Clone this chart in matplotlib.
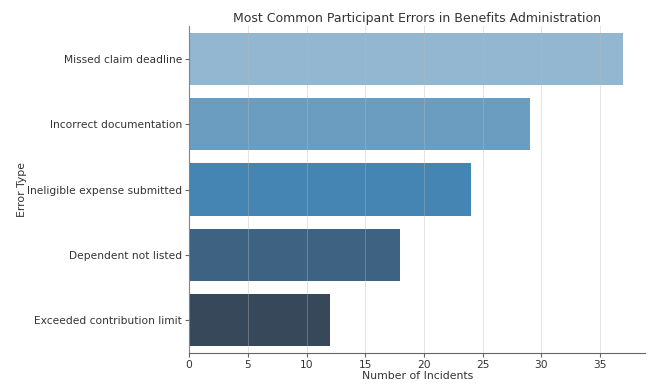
import matplotlib
matplotlib.use("Agg")
import matplotlib.pyplot as plt

categories = ["Missed claim deadline", "Incorrect documentation",
              "Ineligible expense submitted", "Dependent not listed",
              "Exceeded contribution limit"]
incidents = [37, 29, 24, 18, 12]
bar_colors = ["#93b7d1", "#6b9dc0", "#4485b4", "#3e6282", "#37485a"]

fig = plt.figure(figsize=(6.59, 3.92), dpi=100)
ax = fig.add_axes([0.287, 0.0995, 0.692, 0.834])

ypos = list(range(len(categories)))
ax.barh(ypos, incidents, height=0.8, color=bar_colors, zorder=2)
ax.set_yticks(ypos)
ax.set_yticklabels(categories)
ax.set_ylim(len(categories) - 0.5, -0.5)
ax.set_xlim(0, max(incidents) * 1.05)
ax.set_xticks(range(0, 40, 5))

ax.grid(axis="x", color="#b8b8b8", linewidth=0.7, zorder=3, alpha=0.4)
ax.set_axisbelow(False)
for s in ["top", "right"]:
    ax.spines[s].set_visible(False)
for s in ["left", "bottom"]:
    ax.spines[s].set_color("#666666")
ax.tick_params(colors="#333333", labelsize=7.7, length=3, pad=2)
ax.tick_params(axis="both", color="#666666")

ax.set_xlabel("Number of Incidents", fontsize=7.8, color="#333333", labelpad=1)
ax.set_ylabel("Error Type", fontsize=7.8, color="#333333", labelpad=0)
ax.set_title("Most Common Participant Errors in Benefits Administration",
             fontsize=9, color="#333333", pad=3)

fig.savefig("out.png", dpi=100)
